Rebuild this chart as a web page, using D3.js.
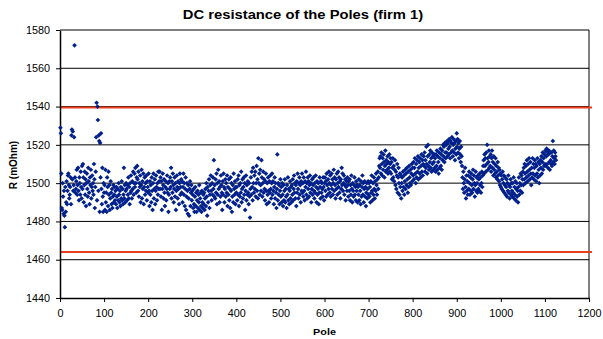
<!DOCTYPE html>
<html>
<head>
<meta charset="utf-8">
<script src="https://cdn.jsdelivr.net/npm/d3@7"></script>
<style>
  body { margin: 0; background: #fff; }
  text { font-family: "Liberation Sans", Arial, sans-serif; fill: #000; }
</style>
</head>
<body>
<div id="chart"></div>
<script>
// Eixos e limites
const xTicks = [0, 100, 200, 300, 400, 500, 600, 700, 800, 900, 1000, 1100, 1200];
const yTicks = [1440, 1460, 1480, 1500, 1520, 1540, 1560, 1580];
const limits = [1539.5, 1464];

// Resistência por pólo (pólo 1 .. 1125)
const resistance = [
  1529,1526,1505,1487,1486,1500,1493,1484,1496,1483,1477,1498,1485,1490,1501,1489,1496,1504,1505,1499,1492,1494,1498,1503,1489,
  1525,1528,1502,1527,1496,1499,1524,1572,1503,1495,1497,1501,1507,1494,1499,1508,1496,1491,1503,1500,1494,1506,1498,1492,1509,
  1497,1510,1503,1490,1499,1506,1494,1502,1488,1500,1505,1497,1493,1508,1501,1495,1489,1503,1499,1507,1492,1498,1504,1496,1500,
  1494,1510,1502,1487,1498,1506,1524,1542,1491,1540,1533,1496,1525,1522,1485,1521,1503,1526,1497,1489,1508,1493,1485,1500,1495,
  1499,1486,1507,1490,1495,1485,1503,1498,1488,1506,1494,1499,1486,1492,1501,1495,1489,1497,1487,1493,1499,1490,1494,1498,1491,
  1496,1489,1498,1493,1487,1497,1491,1500,1494,1490,1496,1488,1498,1492,1501,1491,1497,1489,1494,1508,1492,1499,1490,1496,1500,
  1497,1491,1499,1494,1503,1492,1498,1489,1500,1495,1504,1496,1492,1501,1497,1506,1494,1500,1505,1498,1508,1500,1495,1503,1509,
  1502,1496,1506,1493,1500,1498,1504,1490,1499,1507,1492,1501,1497,1505,1489,1498,1503,1494,1500,1496,1504,1491,1501,1498,1495,
  1505,1496,1488,1501,1494,1499,1490,1503,1496,1486,1500,1505,1492,1497,1502,1489,1496,1504,1498,1491,1500,1494,1506,1497,1501,
  1506,1497,1503,1493,1501,1486,1497,1505,1499,1492,1502,1495,1488,1498,1501,1491,1497,1504,1495,1500,1485,1494,1501,1497,1503,
  1498,1508,1492,1501,1495,1505,1499,1490,1497,1503,1493,1500,1486,1496,1504,1498,1492,1501,1497,1489,1500,1505,1494,1498,1502,
  1495,1501,1490,1498,1505,1494,1500,1488,1497,1503,1486,1493,1500,1496,1484,1499,1492,1483,1497,1501,1488,1495,1499,1491,1496,
  1494,1487,1497,1489,1485,1493,1498,1488,1495,1485,1491,1496,1487,1494,1490,1499,1486,1492,1495,1488,1485,1496,1490,1487,1494,
  1489,1495,1486,1492,1497,1488,1500,1493,1483,1498,1490,1496,1502,1487,1494,1499,1504,1496,1491,1500,1494,1503,1497,1512,1493,
  1499,1492,1502,1495,1505,1489,1500,1494,1507,1497,1501,1490,1498,1493,1504,1499,1495,1486,1501,1494,1505,1498,1490,1497,1502,
  1493,1500,1495,1504,1488,1498,1494,1502,1491,1497,1487,1503,1496,1500,1485,1493,1499,1490,1505,1497,1494,1501,1489,1498,1495,
  1498,1491,1502,1494,1504,1488,1499,1493,1500,1495,1506,1490,1497,1502,1492,1498,1503,1494,1500,1486,1496,1504,1491,1499,1494,
  1501,1495,1489,1500,1493,1482,1497,1503,1494,1506,1498,1491,1508,1500,1495,1504,1497,1506,1493,1500,1509,1496,1502,1492,1513,
  1500,1505,1494,1507,1499,1496,1512,1503,1493,1500,1506,1495,1502,1497,1491,1501,1505,1496,1489,1500,1494,1503,1496,1490,1501,
  1495,1504,1497,1492,1500,1505,1494,1501,1496,1489,1498,1503,1492,1500,1495,1487,1497,1515,1491,1500,1494,1499,1489,1496,1502,
  1493,1498,1490,1500,1494,1488,1499,1491,1496,1502,1490,1497,1493,1487,1499,1494,1503,1491,1497,1489,1496,1501,1492,1498,1490,
  1499,1494,1502,1491,1497,1504,1495,1500,1492,1499,1488,1501,1495,1505,1497,1492,1500,1503,1494,1499,1490,1501,1496,1505,1495,
  1500,1493,1503,1496,1491,1501,1498,1506,1494,1500,1492,1503,1497,1501,1493,1499,1504,1495,1500,1490,1497,1502,1494,1499,1503,
  1496,1492,1500,1495,1504,1498,1490,1501,1494,1497,1500,1489,1495,1503,1498,1492,1501,1495,1500,1497,1493,1503,1498,1491,1500,
  1503,1496,1501,1493,1505,1499,1494,1502,1497,1506,1500,1495,1504,1493,1499,1505,1497,1502,1494,1500,1507,1496,1503,1499,1492,
  1502,1497,1505,1494,1500,1506,1498,1503,1495,1501,1492,1502,1497,1508,1499,1505,1496,1500,1504,1494,1499,1502,1491,1498,1501,
  1496,1503,1499,1493,1501,1496,1502,1491,1499,1494,1504,1497,1490,1500,1496,1493,1499,1503,1494,1498,1491,1501,1496,1499,1490,
  1498,1494,1502,1491,1499,1496,1489,1501,1493,1498,1504,1494,1500,1490,1497,1501,1493,1498,1488,1495,1500,1492,1497,1501,1494,
  1500,1493,1498,1490,1501,1495,1504,1496,1491,1500,1494,1503,1497,1492,1501,1496,1505,1499,1494,1502,1506,1497,1503,1509,1513,
  1508,1514,1505,1516,1510,1504,1513,1507,1515,1511,1503,1509,1517,1506,1512,1510,1507,1514,1505,1511,1508,1515,1506,1510,1513,
  1505,1511,1502,1508,1513,1503,1509,1501,1507,1512,1499,1506,1497,1504,1510,1495,1503,1508,1500,1494,1505,1498,1504,1492,1500,
  1503,1496,1506,1498,1504,1494,1501,1507,1497,1505,1499,1508,1502,1495,1506,1498,1509,1503,1500,1507,1499,1505,1510,1501,1508,
  1504,1511,1502,1508,1513,1505,1500,1510,1503,1512,1506,1514,1502,1508,1511,1505,1513,1503,1509,1515,1506,1512,1504,1510,1514,
  1509,1516,1506,1512,1508,1519,1510,1505,1514,1520,1509,1507,1515,1511,1517,1508,1513,1506,1516,1510,1514,1507,1511,1515,1508,
  1513,1506,1515,1509,1517,1507,1514,1511,1505,1516,1508,1513,1518,1509,1515,1507,1517,1512,1520,1514,1519,1511,1521,1516,1513,
  1520,1516,1522,1514,1521,1518,1515,1523,1519,1513,1522,1516,1521,1524,1517,1514,1520,1523,1516,1521,1512,1518,1522,1515,1526,
  1519,1523,1516,1521,1513,1518,1522,1515,1511,1519,1514,1509,1503,1497,1506,1500,1495,1502,1508,1498,1492,1504,1496,1501,1494,
  1504,1497,1506,1500,1494,1503,1496,1505,1499,1495,1502,1507,1497,1504,1500,1493,1499,1506,1496,1503,1500,1495,1504,1497,1502,
  1496,1505,1499,1503,1495,1500,1506,1498,1504,1509,1512,1505,1515,1509,1513,1506,1516,1510,1520,1513,1507,1511,1517,1508,1514,
  1509,1515,1506,1513,1517,1508,1511,1504,1514,1507,1510,1505,1513,1503,1509,1506,1502,1511,1504,1508,1501,1507,1499,1505,1498,
  1504,1497,1502,1506,1496,1500,1504,1495,1499,1503,1494,1498,1502,1493,1500,1496,1504,1495,1499,1492,1498,1502,1494,1500,1496,
  1493,1500,1495,1503,1492,1498,1494,1501,1491,1497,1500,1493,1496,1490,1498,1503,1494,1500,1496,1505,1499,1504,1495,1502,1506,
  1499,1508,1502,1510,1505,1500,1509,1503,1512,1506,1501,1510,1504,1513,1507,1502,1511,1505,1499,1508,1503,1513,1505,1510,1502,
  1508,1512,1504,1510,1501,1509,1505,1513,1503,1511,1507,1500,1510,1504,1512,1508,1514,1505,1511,1516,1507,1513,1509,1515,1510,
  1517,1509,1514,1518,1510,1516,1508,1515,1517,1511,1507,1516,1512,1510,1516,1509,1514,1522,1511,1517,1513,1510,1516,1514,1512
];

document.addEventListener('DOMContentLoaded', function() {
    const width = 603;
    const height = 339;
    const margin = { left: 60, right: 14, top: 30, bottom: 41 };

    // Estica o texto na horizontal (o original é mais largo que alto)
    function stretch(sel, k) {
        sel.each(function() {
            const w = this.getComputedTextLength();
            d3.select(this)
                .attr('textLength', w * k)
                .attr('lengthAdjust', 'spacingAndGlyphs');
        });
    }

    const svg = d3.select('#chart')
        .append('svg')
        .attr('width', width)
        .attr('height', height);

    svg.append('rect')
        .attr('width', width)
        .attr('height', height)
        .attr('fill', '#fff');

    const x = d3.scaleLinear()
        .domain([0, 1200])
        .range([margin.left, width - margin.right]);

    const y = d3.scaleLinear()
        .domain([1440, 1580])
        .range([height - margin.bottom, margin.top]);

    // Linhas de grade
    svg.append('g')
        .selectAll('line')
        .data(yTicks.slice(1))
        .enter()
        .append('line')
        .attr('x1', x(0))
        .attr('x2', x(1200))
        .attr('y1', d => y(d))
        .attr('y2', d => y(d))
        .attr('stroke', '#000')
        .attr('stroke-width', 1);

    // Borda direita
    svg.append('line')
        .attr('x1', x(1200)).attr('x2', x(1200))
        .attr('y1', y(1580)).attr('y2', y(1440))
        .attr('stroke', '#000');

    // Limites (vermelho)
    svg.append('g')
        .selectAll('line')
        .data(limits)
        .enter()
        .append('line')
        .attr('x1', x(0))
        .attr('x2', x(1200) + 3)
        .attr('y1', d => y(d))
        .attr('y2', d => y(d))
        .attr('stroke', '#e8401c')
        .attr('stroke-width', 2);

    // Eixo x
    const xAxis = svg.append('g')
        .attr('transform', `translate(0,${y(1440)})`)
        .call(d3.axisBottom(x).tickValues(xTicks).tickFormat(d3.format('d'))
            .tickSize(4).tickPadding(8).tickSizeOuter(0));

    // Eixo y
    const yAxis = svg.append('g')
        .attr('transform', `translate(${x(0)},0)`)
        .call(d3.axisLeft(y).tickValues(yTicks).tickFormat(d3.format('d'))
            .tickSize(4).tickPadding(6).tickSizeOuter(0));

    [xAxis, yAxis].forEach(a => {
        a.select('.domain').attr('stroke', '#000').attr('stroke-width', 1.5);
        a.selectAll('.tick line').attr('stroke', '#000');
        a.selectAll('text')
            .attr('font-size', '10px')
            .attr('font-family', '"Liberation Sans", Arial, sans-serif')
            .attr('fill', '#000')
            .call(stretch, 1.08);
    });

    // Pontos (losangos)
    const diamond = d3.symbol().type(d3.symbolSquare).size(11);
    svg.append('g')
        .selectAll('path')
        .data(resistance)
        .enter()
        .append('path')
        .attr('d', diamond)
        .attr('transform', (d, i) => `translate(${x(i + 1)},${y(d)}) rotate(45)`)
        .attr('fill', '#00208c');

    // Títulos
    svg.append('text')
        .attr('x', 303)
        .attr('y', 19)
        .attr('text-anchor', 'middle')
        .attr('font-size', '12px')
        .attr('font-weight', 'bold')
        .text('DC resistance of the Poles (firm 1)')
        .call(stretch, 1.23);

    svg.append('text')
        .attr('x', 324.5)
        .attr('y', 335)
        .attr('text-anchor', 'middle')
        .attr('font-size', '9px')
        .attr('font-weight', 'bold')
        .text('Pole')
        .call(stretch, 1.2);

    svg.append('text')
        .attr('transform', 'translate(17,165) rotate(-90)')
        .attr('text-anchor', 'middle')
        .attr('font-size', '10px')
        .attr('font-weight', 'bold')
        .text('R (mOhm)');
});
</script>
</body>
</html>
